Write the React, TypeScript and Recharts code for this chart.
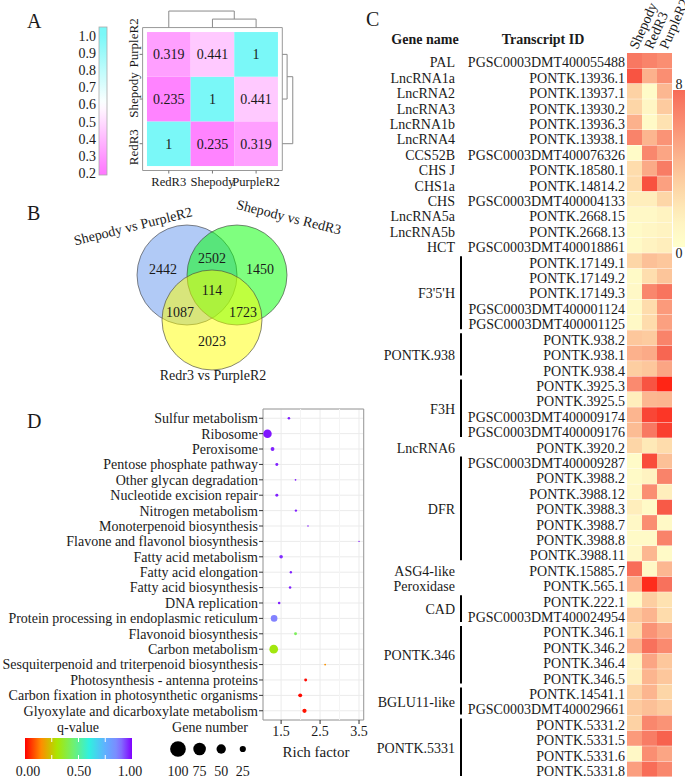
import React from 'react';
import {
  ScatterChart, Scatter, BarChart, Bar, Cell, XAxis, YAxis, CartesianGrid,
  ReferenceLine, ReferenceArea,
} from 'recharts';

const FONT = '"Liberation Serif", "Times New Roman", serif';
const INK = '#1a1a1a';

// ---------- A: sample correlation ----------
const corrSamples = ['RedR3', 'Shepody', 'PurpleR2'];
// rows and columns in corrSamples order
const corrMatrix = [
  [1, 0.235, 0.319],
  [0.235, 1, 0.441],
  [0.319, 0.441, 1],
];
const corrTicks = [1.0, 0.9, 0.8, 0.7, 0.6, 0.5, 0.4, 0.3, 0.2];

// ---------- B: Venn ----------
const vennSets = ['Shepody vs PurpleR2', 'Shepody vs RedR3', 'Redr3 vs PurpleR2'];
const vennRegions = ['SP', 'SP&SR', 'SR', 'all', 'SP&RP', 'SR&RP', 'RP'];
const vennCounts = [2442, 2502, 1450, 114, 1087, 1723, 2023];

// ---------- C: expression heatmap ----------
const heatSamples = ['Shepody', 'RedR3', 'PurpleR2'];
const geneNames = [
  'PAL', 'LncRNA1a', 'LncRNA2', 'LncRNA3', 'LncRNA1b', 'LncRNA4', 'CCS52B', 'CHS J', 'CHS1a', 'CHS',
  'LncRNA5a', 'LncRNA5b', 'HCT',
  "F3'5'H", "F3'5'H", "F3'5'H", "F3'5'H", "F3'5'H",
  'PONTK.938', 'PONTK.938', 'PONTK.938',
  'F3H', 'F3H', 'F3H', 'F3H',
  'LncRNA6',
  'DFR', 'DFR', 'DFR', 'DFR', 'DFR', 'DFR', 'DFR',
  'ASG4-like', 'Peroxidase',
  'CAD', 'CAD',
  'PONTK.346', 'PONTK.346', 'PONTK.346', 'PONTK.346',
  'BGLU11-like', 'BGLU11-like',
  'PONTK.5331', 'PONTK.5331', 'PONTK.5331', 'PONTK.5331',
];
const transcriptIds = [
  'PGSC0003DMT400055488', 'PONTK.13936.1', 'PONTK.13937.1', 'PONTK.13930.2', 'PONTK.13936.3',
  'PONTK.13938.1', 'PGSC0003DMT400076326', 'PONTK.18580.1', 'PONTK.14814.2', 'PGSC0003DMT400004133',
  'PONTK.2668.15', 'PONTK.2668.13', 'PGSC0003DMT400018861',
  'PONTK.17149.1', 'PONTK.17149.2', 'PONTK.17149.3', 'PGSC0003DMT400001124', 'PGSC0003DMT400001125',
  'PONTK.938.2', 'PONTK.938.1', 'PONTK.938.4',
  'PONTK.3925.3', 'PONTK.3925.5', 'PGSC0003DMT400009174', 'PGSC0003DMT400009176',
  'PONTK.3920.2',
  'PGSC0003DMT400009287', 'PONTK.3988.2', 'PONTK.3988.12', 'PONTK.3988.3', 'PONTK.3988.7',
  'PONTK.3988.8', 'PONTK.3988.11',
  'PONTK.15885.7', 'PONTK.565.1',
  'PONTK.222.1', 'PGSC0003DMT400024954',
  'PONTK.346.1', 'PONTK.346.2', 'PONTK.346.4', 'PONTK.346.5',
  'PONTK.14541.1', 'PGSC0003DMT400029661',
  'PONTK.5331.2', 'PONTK.5331.5', 'PONTK.5331.6', 'PONTK.5331.8',
];
const exprShepody = [
  7, 8.5, 3, 2.8, 4.5, 6.5, 0.5, 2.5, 2.5, 1.5, 0.8, 0.6, 0.6,
  2.8, 0.6, 0.8, 0.7, 0.7, 3.5, 4.5, 3.2, 6.2, 1.5, 4.3, 4, 2.8,
  0.5, 0.6, 0.8, 1.5, 0.8, 0.6, 0.8, 7.5, 4.5, 0.6, 3.5,
  2.5, 4.5, 1.2, 1.3, 3, 3.3, 3, 5.5, 0.8, 5.3,
];
const exprRedR3 = [
  6.5, 4.5, 0.5, 1, 0.6, 4.3, 6.3, 4.8, 8.6, 1.5, 0.8, 1.0, 1.2,
  3.8, 2.4, 6.3, 2.5, 2.5, 3.3, 4.8, 3.5, 8.5, 4.2, 9, 7, 1.8,
  8.8, 1.2, 6, 0.6, 6, 0.6, 4.2, 0.8, 9.8, 3.2, 4.3,
  5.8, 7.3, 5, 4.3, 4.3, 3.8, 6.3, 6.8, 6, 7.5,
];
const exprPurpleR2 = [
  6, 6, 4.2, 3.3, 2.2, 5.8, 5, 6.8, 5.2, 2.8, 1.2, 1.2, 1.5,
  3.5, 3.6, 7.2, 5.5, 5.2, 6.5, 7.8, 5, 10, 4.3, 9.5, 9.2, 2.5,
  3.8, 6.5, 1.5, 8.3, 0.7, 6.5, 0.6, 4.2, 7.3, 2.2, 2.5,
  4.8, 6.2, 3.5, 3.5, 2.8, 3.3, 5.8, 8, 5, 6.3,
];
const exprBySample = [exprShepody, exprRedR3, exprPurpleR2];

// ---------- D: KEGG enrichment ----------
const pathways = [
  'Sulfur metabolism', 'Ribosome', 'Peroxisome', 'Pentose phosphate pathway',
  'Other glycan degradation', 'Nucleotide excision repair', 'Nitrogen metabolism',
  'Monoterpenoid biosynthesis', 'Flavone and flavonol biosynthesis', 'Fatty acid metabolism',
  'Fatty acid elongation', 'Fatty acid biosynthesis', 'DNA replication',
  'Protein processing in endoplasmic reticulum', 'Flavonoid biosynthesis', 'Carbon metabolism',
  'Sesquiterpenoid and triterpenoid biosynthesis', 'Photosynthesis - antenna proteins',
  'Carbon fixation in photosynthetic organisms', 'Glyoxylate and dicarboxylate metabolism',
];
const richFactor = [1.70, 1.15, 1.28, 1.39, 1.87, 1.39, 1.88, 2.19, 3.50, 1.50, 1.75, 1.73, 1.45, 1.32, 1.87, 1.31, 2.63, 2.13, 1.99, 2.10];
const qValue = [0.97, 0.98, 0.97, 0.97, 0.98, 0.97, 0.97, 0.98, 0.99, 0.96, 0.97, 0.97, 0.97, 0.88, 0.42, 0.32, 0.16, 0.01, 0.01, 0.02];
const geneNumber = [30, 100, 45, 35, 20, 35, 28, 18, 15, 42, 28, 30, 30, 78, 34, 102, 22, 34, 46, 50];
const sizeKeys = [100, 75, 50, 25];
const qTicks = [0, 0.5, 1];
const richTicks = [1.5, 2.5, 3.5];

// ---------- colour helpers ----------
const hexRgb = (h: string) => {
  const n = parseInt(h.slice(1), 16);
  return [(n >> 16) & 255, (n >> 8) & 255, n & 255];
};
const ramp = (stops: [number, string][], v: number) => {
  if (v <= stops[0][0]) return stops[0][1];
  for (let i = 1; i < stops.length; i++) {
    if (v <= stops[i][0]) {
      const t = (v - stops[i - 1][0]) / (stops[i][0] - stops[i - 1][0]);
      const a = hexRgb(stops[i - 1][1]);
      const b = hexRgb(stops[i][1]);
      return `rgb(${a.map((x, k) => Math.round(x + (b[k] - x) * t)).join(',')})`;
    }
  }
  return stops[stops.length - 1][1];
};
const corrStops: [number, string][] = [[0.2, '#FF77FF'], [0.6, '#FFFFFF'], [1.0, '#7AF8F8']];
const exprStops: [number, string][] = [
  [0, '#FFFFCC'], [1, '#FFF6C4'], [2, '#FEE6B4'], [3, '#FDD2A4'], [4, '#FCBC94'], [5, '#FBA584'],
  [6, '#FA8E72'], [7, '#F87862'], [8, '#F7624E'], [9, '#F94636'], [10, '#FF2515'],
];
const qStops: [number, string][] = [
  [0, '#FF0000'], [0.15, '#FF8C00'], [0.3, '#AAE600'], [0.45, '#70F070'], [0.6, '#30F0E0'],
  [0.75, '#60B0FF'], [0.88, '#8282FF'], [1, '#8000FF'],
];
const gradStops = (stops: [number, string][], lo: number, hi: number, n = 20) =>
  Array.from({ length: n + 1 }, (_, k) => {
    const v = lo + ((hi - lo) * k) / n;
    return <stop key={k} offset={`${(k / n) * 100}%`} stopColor={ramp(stops, v)} />;
  });

// ---------- A layout ----------
const A_XD = [-0.1, 3.4];
const A_YD = [-0.1, 3.5];
const A_M = { top: 9.7, right: 4.6, bottom: 0, left: 112.6 };
const A_YW = 30;
const A_XH = 25;
const A_W = 300;
const A_H = 195.5;
const A_PW = A_W - A_M.left - A_YW - A_M.right;
const A_PH = A_H - A_M.top - A_XH - A_M.bottom;
const A_CW = A_PW / (A_XD[1] - A_XD[0]);
const A_CH = A_PH / (A_YD[1] - A_YD[0]);
const corrCells = corrMatrix.flatMap((row, r) =>
  row.map((v, c) => ({ x: c + 0.5, y: r + 0.5, v })),
);
// dendrogram merge levels (axis units, beyond the matrix frame)
const FRAME = 3.1;
const DEN_IN = 3.29;
const DEN_OUT = 3.47;
const DEN_R_IN = 3.21;
const DEN_R_OUT = 3.34;
const denSegments: [number, number, number, number][] = [
  [1.5, FRAME, 1.5, DEN_IN], [2.5, FRAME, 2.5, DEN_IN], [1.5, DEN_IN, 2.5, DEN_IN],
  [0.5, FRAME, 0.5, DEN_OUT], [2.0, DEN_IN, 2.0, DEN_OUT], [0.5, DEN_OUT, 2.0, DEN_OUT],
  [FRAME, 2.5, DEN_R_IN, 2.5], [FRAME, 1.5, DEN_R_IN, 1.5], [DEN_R_IN, 1.5, DEN_R_IN, 2.5],
  [FRAME, 0.5, DEN_R_OUT, 0.5], [DEN_R_IN, 2.0, DEN_R_OUT, 2.0], [DEN_R_OUT, 0.5, DEN_R_OUT, 2.0],
];

// ---------- B layout (unit circles) ----------
const VENN_PX = 50;
const vennCircles = [
  { x: -0.5, y: 0, fill: '#6495ED' },
  { x: 0.5, y: 0, fill: '#00FF00' },
  { x: 0, y: -0.9, fill: '#FFFF00' },
];
const vennAnchors = [
  [-0.98, 0.12], [0, 0.34], [0.96, 0.12], [0, -0.3], [-0.64, -0.74], [0.62, -0.74], [0, -1.32],
];

// ---------- C layout ----------
const C_ROW_H = 724 / transcriptIds.length;
const heatRows = transcriptIds.map((id, i) => ({ row: i, id, Shepody: 1, RedR3: 1, PurpleR2: 1 }));
const groupStart = geneNames.map((g, i) => i === 0 || geneNames[i - 1] !== g);
const groupSize = geneNames.map((g, i) => {
  if (!groupStart[i]) return 0;
  let n = 1;
  while (geneNames[i + n] === g) n++;
  return n;
});

const GeneTick = (props: any) => {
  const i = Number(props.payload.value);
  const y = props.y;
  const n = groupSize[i];
  return (
    <g fontFamily={FONT} fontSize={14} fill={INK}>
      <text x={265} y={y} dy="0.48em" textAnchor="end">{transcriptIds[i]}</text>
      {n > 0 && (
        <text x={95} y={y + ((n - 1) * C_ROW_H) / 2} dy="0.48em" textAnchor="end">{geneNames[i]}</text>
      )}
      {n > 1 && (
        <line x1={101} x2={101} y1={y - C_ROW_H / 2 + 3} y2={y + (n - 1) * C_ROW_H + C_ROW_H / 2 - 1}
          stroke="#000" strokeWidth={2} />
      )}
    </g>
  );
};

const SampleTick = (props: any) => {
  const label = heatSamples[Math.floor(props.payload.value)];
  const x = props.x + 3;
  return (
    <text x={x} y={50} transform={`rotate(-66 ${x} 50)`} fontFamily={FONT} fontSize={14} fill={INK}>
      {label}
    </text>
  );
};

// row labels of the correlation matrix are spread a little wider than the rows
const CorrYTick = (props: any) => {
  const { x, y } = props;
  const yy = y - 4 - 7.5 * (props.payload.value - 1.5);
  return (
    <text x={x} y={yy} transform={`rotate(-90 ${x} ${yy})`} textAnchor="middle" fontFamily={FONT}
      fontSize={13} fill={INK}>
      {corrSamples[Math.floor(props.payload.value)]}
    </text>
  );
};

const PathwayTick = (props: any) => (
  <text x={props.x} y={props.y} dy="0.35em" textAnchor="end" fontFamily={FONT} fontSize={14} fill={INK}>
    {pathways[props.payload.value - 1]}
  </text>
);

const dotRadius = (g: number) => g * 0.0425;
const keyRadius = (g: number) => (3 + 0.127 * g) / 2;
const enrichData = pathways.map((name, i) => ({
  name, row: i + 1, rich: richFactor[i], q: qValue[i], genes: geneNumber[i],
}));

const abs = (left: number, top: number): React.CSSProperties => ({ position: 'absolute', left, top });

export default function App() {
  return (
    <div style={{ position: 'absolute', left: 0, top: 0, width: 685, height: 779, overflow: 'hidden', background: '#fff', fontFamily: FONT }}>
      {/* A */}
      <div style={abs(0, 0)}>
        <ScatterChart width={A_W} height={A_H} margin={A_M}>
          <XAxis type="number" dataKey="x" domain={A_XD} allowDataOverflow ticks={[0.5, 1.5, 2.5]}
            tickFormatter={(v) => corrSamples[Math.floor(v)]} height={A_XH} axisLine={false}
            tickSize={3} tickMargin={4} tickLine={{ stroke: '#777' }}
            tick={{ fontFamily: FONT, fontSize: 12.6, fill: INK }} interval={0} />
          <YAxis type="number" dataKey="y" domain={A_YD} allowDataOverflow ticks={[0.5, 1.5, 2.5]}
            width={A_YW} axisLine={false} tickSize={3} tickMargin={2} tickLine={{ stroke: '#777' }}
            tick={<CorrYTick />} interval={0} />
          <ReferenceArea x1={-0.1} x2={FRAME} y1={-0.1} y2={FRAME} fill="none" stroke="#999"
            strokeWidth={1} ifOverflow="visible" />
          {denSegments.map((s, k) => (
            <ReferenceLine key={k} segment={[{ x: s[0], y: s[1] }, { x: s[2], y: s[3] }]}
              stroke="#8a8a8a" strokeWidth={1} ifOverflow="visible" />
          ))}
          <Scatter data={corrCells} isAnimationActive={false}
            shape={(p: any) => (
              <g>
                <rect x={p.cx - A_CW / 2} y={p.cy - A_CH / 2} width={A_CW} height={A_CH}
                  fill={ramp(corrStops, p.payload.v)} />
                <text x={p.cx} y={p.cy} dy="0.35em" textAnchor="middle" fontFamily={FONT}
                  fontSize={14} fill={INK}>{p.payload.v}</text>
              </g>
            )} />
        </ScatterChart>
      </div>

      {/* B */}
      <div style={abs(12, 155)}>
        <ScatterChart width={400} height={240} margin={{ top: 0, right: 0, bottom: 0, left: 0 }}>
          <XAxis type="number" dataKey="x" domain={[-4, 4]} allowDataOverflow hide />
          <YAxis type="number" dataKey="y" domain={[-2.4, 2.4]} allowDataOverflow hide />
          {vennCircles.map((c, k) => (
            <Scatter key={k} data={[c]} isAnimationActive={false}
              shape={(p: any) => (
                <circle cx={p.cx} cy={p.cy} r={VENN_PX} fill={c.fill} fillOpacity={0.5}
                  stroke="#444" strokeOpacity={0.8} strokeWidth={0.8} />
              )} />
          ))}
          <Scatter data={vennRegions.map((r, i) => ({ r, n: vennCounts[i], x: vennAnchors[i][0], y: vennAnchors[i][1] }))}
            isAnimationActive={false}
            shape={(p: any) => (
              <text x={p.cx} y={p.cy} dy="0.35em" textAnchor="middle" fontFamily={FONT} fontSize={14}
                fill={INK}>{p.payload.n}</text>
            )} />
        </ScatterChart>
      </div>

      {/* C */}
      <div style={abs(360, 0)}>
        <BarChart width={325} height={779} data={heatRows} layout="vertical" barCategoryGap={0}
          margin={{ top: 0, right: 13, bottom: 2, left: 0 }}>
          <XAxis type="number" orientation="top" domain={[0, 3]} ticks={[0.5, 1.5, 2.5]} height={53}
            axisLine={false} tickLine={false} tick={<SampleTick />} interval={0} />
          <YAxis type="category" dataKey="row" width={267} axisLine={false} tickLine={false}
            tick={<GeneTick />} interval={0} />
          {heatSamples.map((s, si) => (
            <Bar key={s} dataKey={s} stackId="h" isAnimationActive={false}>
              {heatRows.map((r) => (
                <Cell key={r.row} fill={ramp(exprStops, exprBySample[si][r.row])} />
              ))}
            </Bar>
          ))}
        </BarChart>
      </div>

      {/* D */}
      <div style={abs(0, 400)}>
        <ScatterChart width={375} height={345} margin={{ top: 9, right: 11.3, bottom: 0, left: 0 }}>
          <CartesianGrid stroke="#EBEBEB" />
          <ReferenceLine x={2} stroke="#F4F4F4" />
          <ReferenceLine x={3} stroke="#F4F4F4" />
          <XAxis type="number" dataKey="rich" domain={[1.035, 3.62]} allowDataOverflow ticks={richTicks}
            tickFormatter={(v) => v.toFixed(1)} height={25} axisLine={false} tickSize={4} tickMargin={2}
            tickLine={{ stroke: '#333' }} tick={{ fontFamily: FONT, fontSize: 14, fill: INK }} interval={0} />
          <YAxis type="number" dataKey="row" domain={[0.4, 20.6]} allowDataOverflow reversed
            ticks={pathways.map((_, i) => i + 1)} width={263}
            axisLine={false} tickSize={4} tickMargin={1} tickLine={{ stroke: '#333' }}
            tick={<PathwayTick />} interval={0} />
          <ReferenceArea x1={1.035} x2={3.62} y1={0.4} y2={20.6} fill="none" stroke="#9a9a9a"
            ifOverflow="visible" />
          <Scatter data={enrichData} isAnimationActive={false}
            shape={(p: any) => (
              <circle cx={p.cx} cy={p.cy} r={dotRadius(p.payload.genes)} fill={ramp(qStops, p.payload.q)} />
            )} />
        </ScatterChart>
      </div>

      {/* labels, headers and legends */}
      <svg width={685} height={779} style={{ position: 'absolute', left: 0, top: 0, pointerEvents: 'none' }}
        fontFamily={FONT} fill={INK}>
        <defs>
          <linearGradient id="gA" x1="0" y1="1" x2="0" y2="0">{gradStops(corrStops, 0.185, 1.05)}</linearGradient>
          <linearGradient id="gC" x1="0" y1="1" x2="0" y2="0">{gradStops(exprStops, 0, 7.6)}</linearGradient>
          <linearGradient id="gD" x1="0" y1="0" x2="1" y2="0">{gradStops(qStops, 0, 1)}</linearGradient>
        </defs>
        <g fontSize={20}>
          <text x={27} y={28}>A</text>
          <text x={27} y={220}>B</text>
          <text x={366} y={26}>C</text>
          <text x={27} y={428}>D</text>
        </g>

        {/* A colour key */}
        <rect x={99} y={27} width={8} height={148} fill="url(#gA)" stroke="#aaa" strokeWidth={0.8} />
        {corrTicks.map((v) => (
          <text key={v} x={96} y={36 + (1 - v) * 171.25} dy="0.35em" textAnchor="end" fontSize={14}>
            {v.toFixed(1)}
          </text>
        ))}

        {/* B set names */}
        <g fontSize={14} textAnchor="middle">
          <text x={133} y={226} dy="0.35em" transform="rotate(-14 133 226)">{vennSets[0]}</text>
          <text x={289} y={217} dy="0.35em" transform="rotate(14 289 217)">{vennSets[1]}</text>
          <text x={213} y={380}>{vennSets[2]}</text>
        </g>

        {/* C headers and key */}
        <g fontSize={14} fontWeight="bold" textAnchor="middle">
          <text x={425} y={44}>Gene name</text>
          <text x={543} y={44}>Transcript ID</text>
        </g>
        <rect x={673} y={90} width={14} height={157} fill="url(#gC)" />
        <text x={679} y={89} textAnchor="middle" fontSize={14}>8</text>
        <text x={679} y={258} textAnchor="middle" fontSize={14}>0</text>

        {/* D legends */}
        <text x={78} y={732} textAnchor="middle" fontSize={14}>q-value</text>
        <rect x={25} y={738} width={107} height={21} fill="url(#gD)" />
        {[0.25, 0.5, 0.75].map((q) => (
          <g key={q} stroke="#fff" strokeWidth={1}>
            <line x1={25 + q * 107} x2={25 + q * 107} y1={738} y2={742} />
            <line x1={25 + q * 107} x2={25 + q * 107} y1={755} y2={759} />
          </g>
        ))}
        {qTicks.map((q) => (
          <text key={q} x={28 + q * 102} y={776} textAnchor="middle" fontSize={14}>{q.toFixed(2)}</text>
        ))}
        <text x={210} y={732} textAnchor="middle" fontSize={14}>Gene number</text>
        {sizeKeys.map((g, k) => (
          <g key={g}>
            <circle cx={178 + k * 21.6} cy={749} r={keyRadius(g)} fill="#000" />
            <text x={178 + k * 21.6} y={776} textAnchor="middle" fontSize={14}>{g}</text>
          </g>
        ))}
        <text x={316} y={757} textAnchor="middle" fontSize={15}>Rich factor</text>
      </svg>
    </div>
  );
}
